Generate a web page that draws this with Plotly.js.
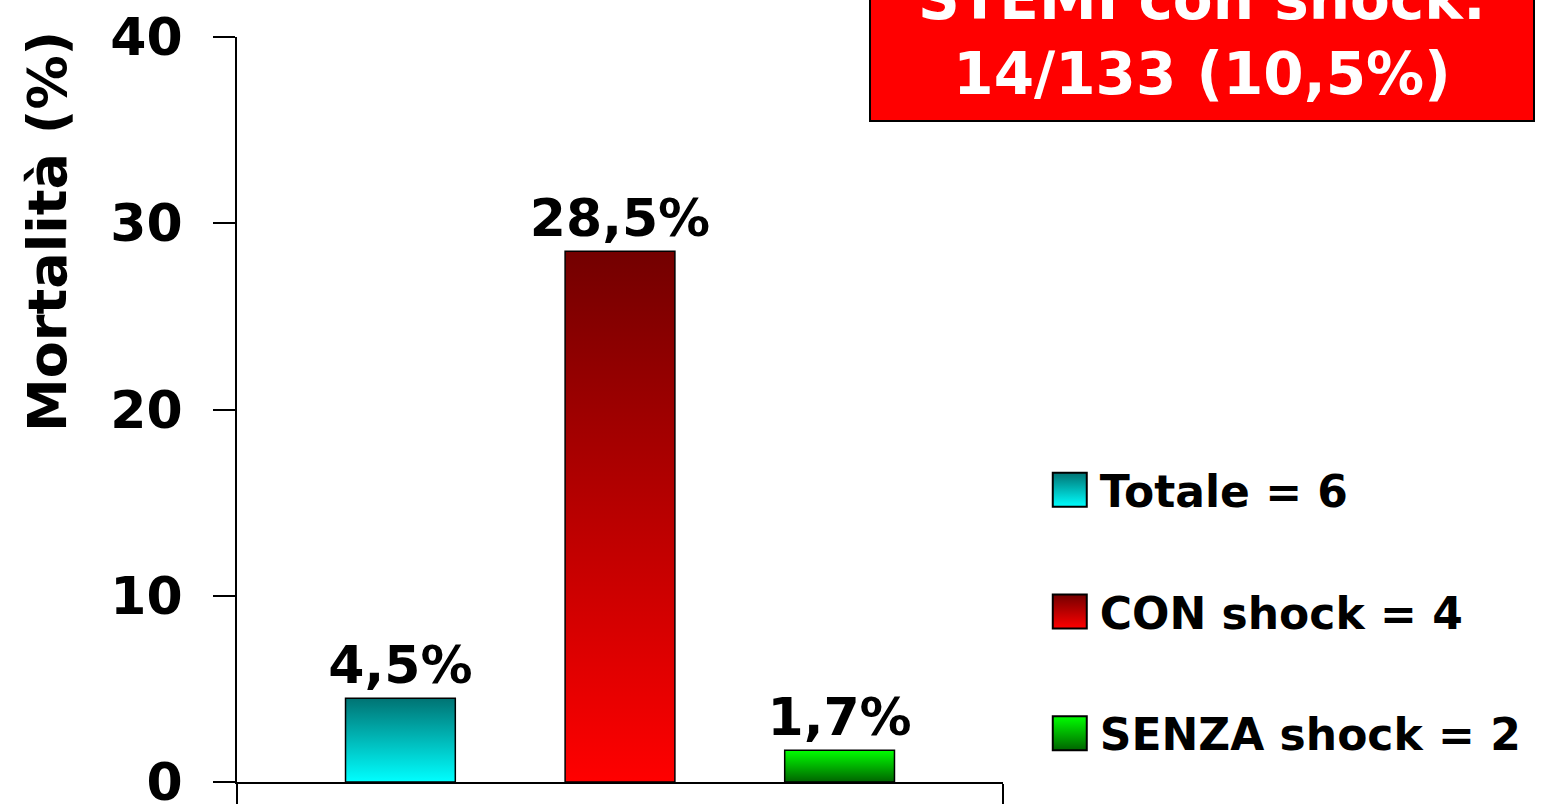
<!DOCTYPE html>
<html>
<head>
<meta charset="utf-8">
<script src="https://cdn.plot.ly/plotly-3.0.1.min.js"></script>
<style>html,body{margin:0;padding:0;background:#fff;}#chart{width:1544px;height:808px;}</style>
</head>
<body>
<div id="chart"></div>
<script>
// ---- data ----
const categories = [''];
const seriesNames = ['Totale = 6', 'CON shock = 4', 'SENZA shock = 2'];
const seriesValues = [4.5, 28.5, 1.7];
const gradTop = ['#007373', '#730000', '#00ff00'];
const gradBottom = ['#00ffff', '#ff0000', '#006400'];
const yTicks = [0, 10, 20, 30, 40];
const yTitle = 'Mortalità (%)';
const boxText = 'STEMI con shock:<br>14/133 (10,5%)';

const FONT = '"DejaVu Sans", sans-serif';

const traces = seriesNames.map((name, i) => ({
  type: 'bar',
  name: name,
  x: categories,
  y: [seriesValues[i]],
  legendgroup: 'g' + i,
  marker: {color: gradBottom[i], line: {color: '#000', width: 1.5}},
  texttemplate: '%{y:.1f}%',
  textposition: 'outside',
  constraintext: 'none',
  cliponaxis: false,
  textfont: {family: FONT, size: 52, color: '#000', weight: 'bold'},
  hoverinfo: 'skip'
}));

const layout = {
  width: 1544, height: 808,
  paper_bgcolor: '#fff', plot_bgcolor: '#fff',
  margin: {l: 237, r: 541, t: 37, b: 26},
  separators: ',.',
  barmode: 'group',
  bargap: 0.14,
  bargroupgap: 0.5,
  showlegend: true,
  legend: {
    x: 1.048, xanchor: 'left', y: 0.4393, yanchor: 'top',
    font: {family: FONT, size: 44, color: '#000', weight: 'bold'},
    traceorder: 'grouped', tracegroupgap: 61.5,
    itemwidth: 50, bgcolor: 'rgba(0,0,0,0)'
  },
  xaxis: {
    type: 'category', range: [-0.5, 0.5], showgrid: false, zeroline: false,
    showline: true, linecolor: '#000', linewidth: 2,
    ticks: 'outside', tickson: 'boundaries', ticklen: 20, tickwidth: 2, tickcolor: '#000',
    showticklabels: false, fixedrange: true
  },
  yaxis: {
    range: [0, 40], tickvals: yTicks, showgrid: false, zeroline: false,
    showline: true, linecolor: '#000', linewidth: 2,
    ticks: 'outside', ticklen: 22, tickwidth: 2, tickcolor: '#000',
    ticklabelstandoff: 20, ticklabeloverflow: 'allow',
    tickfont: {family: FONT, size: 52, color: '#000', weight: 'bold'},
    fixedrange: true
  },
  annotations: [
    {
      text: yTitle, textangle: -90, xref: 'paper', yref: 'paper',
      x: (48 - 237) / 766, y: (782 - 232) / 745, xanchor: 'center', yanchor: 'middle',
      showarrow: false,
      font: {family: FONT, size: 54, color: '#000', weight: 'bold'}
    },
    {
      text: boxText, xref: 'paper', yref: 'paper',
      x: (1201.5 - 237) / 766, y: (782 - 122) / 745, xanchor: 'center', yanchor: 'bottom',
      showarrow: false, align: 'center', valign: 'bottom',
      width: 638, height: 180, borderpad: 12,
      bgcolor: '#ff0000', bordercolor: '#000', borderwidth: 2,
      font: {family: FONT, size: 58, color: '#fff', weight: 'bold'}
    }
  ]
};

Plotly.newPlot('chart', traces, layout, {staticPlot: true, displayModeBar: false}).then(gd => {
  const svgNS = 'http://www.w3.org/2000/svg';
  const svg = gd.querySelector('svg.main-svg');
  let defs = svg.querySelector('defs');
  if (!defs) { defs = document.createElementNS(svgNS, 'defs'); svg.insertBefore(defs, svg.firstChild); }
  seriesNames.forEach((n, i) => {
    const lg = document.createElementNS(svgNS, 'linearGradient');
    lg.setAttribute('id', 'barGrad' + i);
    lg.setAttribute('x1', '0'); lg.setAttribute('y1', '0');
    lg.setAttribute('x2', '0'); lg.setAttribute('y2', '1');
    const s1 = document.createElementNS(svgNS, 'stop');
    s1.setAttribute('offset', '0'); s1.setAttribute('stop-color', gradTop[i]);
    const s2 = document.createElementNS(svgNS, 'stop');
    s2.setAttribute('offset', '1'); s2.setAttribute('stop-color', gradBottom[i]);
    lg.appendChild(s1); lg.appendChild(s2); defs.appendChild(lg);
  });
  const barTraces = gd.querySelectorAll('.barlayer .trace.bars');
  barTraces.forEach((t, i) => {
    t.querySelectorAll('.point path').forEach(p => { p.style.fill = 'url(#barGrad' + i + ')'; });
  });
  const legItems = gd.querySelectorAll('.legend .traces');
  legItems.forEach((t, i) => {
    t.querySelectorAll('.legendpoints path').forEach(p => {
      p.setAttribute('d', 'M17,17H-17V-17H17Z');
      p.style.fill = 'url(#barGrad' + i + ')';
      p.style.stroke = '#000';
      p.style.strokeWidth = '2px';
    });
  });
});
</script>
</body>
</html>
